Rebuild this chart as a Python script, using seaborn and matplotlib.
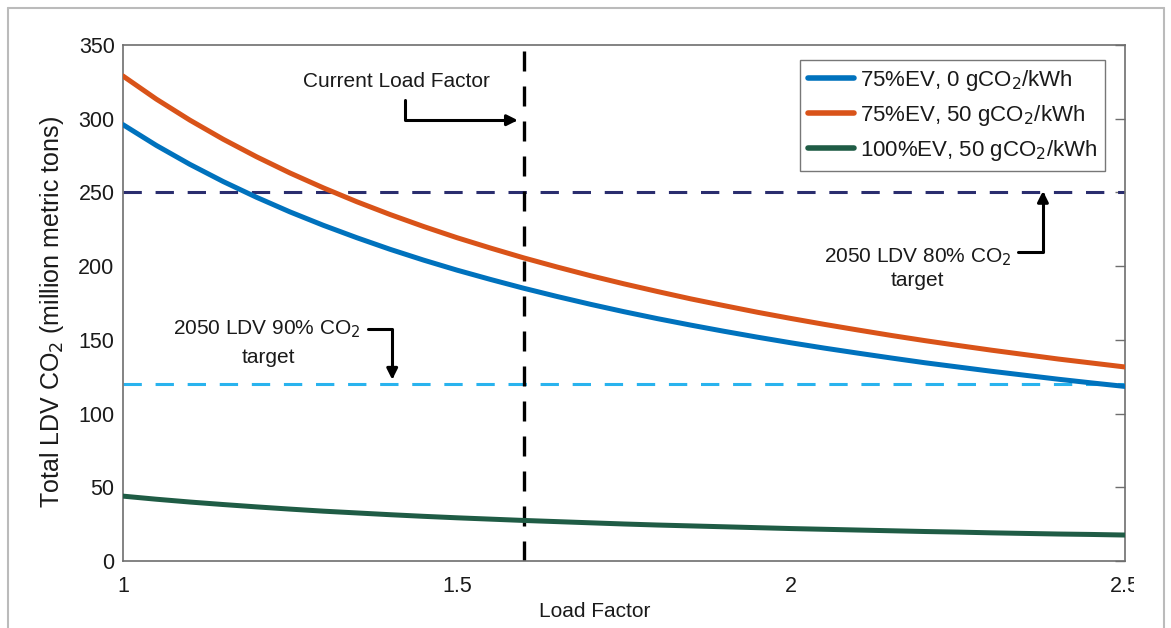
import pandas as pd
import matplotlib.pyplot as plt
import seaborn as sns
from matplotlib.lines import Line2D
from matplotlib.patches import Rectangle

# --- dati ---
load_factor = [1.0, 1.05, 1.1, 1.15, 1.2, 1.25, 1.3, 1.35, 1.4, 1.45, 1.5,
               1.55, 1.6, 1.65, 1.7, 1.75, 1.8, 1.85, 1.9, 1.95, 2.0,
               2.05, 2.1, 2.15, 2.2, 2.25, 2.3, 2.35, 2.4, 2.45, 2.5]
ev75_0g = [296, 281.9, 269.1, 257.4, 246.7, 236.8, 227.7, 219.3, 211.4, 204.1, 197.3,
           191, 185, 179.4, 174.1, 169.1, 164.4, 160, 155.8, 151.8, 148,
           144.4, 141, 137.7, 134.5, 131.6, 128.7, 126, 123.3, 120.8, 118.4]
ev75_50g = [329, 313.3, 299.1, 286.1, 274.2, 263.2, 253.1, 243.7, 235, 226.9, 219.3,
            212.3, 205.6, 199.4, 193.5, 188, 182.8, 177.8, 173.2, 168.7, 164.5,
            160.5, 156.7, 153, 149.5, 146.2, 143, 140, 137, 134.3, 131.6]
ev100_50g = [44, 41.9, 40, 38.3, 36.7, 35.2, 33.8, 32.6, 31.4, 30.3, 29.3,
             28.4, 27.5, 26.7, 25.9, 25.1, 24.4, 23.8, 23.2, 22.6, 22,
             21.5, 21, 20.5, 20, 19.6, 19.1, 18.7, 18.3, 18, 17.6]

series_names = ["75%EV, 0 gCO$_2$/kWh", "75%EV, 50 gCO$_2$/kWh", "100%EV, 50 gCO$_2$/kWh"]
target_80 = 250
target_90 = 120
current_lf = 1.6

# --- stile ---
sns.set_theme(style="white")
plt.rcParams.update({
    'font.size': 15,
    'axes.labelsize': 14,
    'xtick.labelsize': 15.5,
    'ytick.labelsize': 15.5,
    'axes.edgecolor': '#6e6e6e',
    'axes.linewidth': 1.2,
    'xtick.direction': 'in',
    'ytick.direction': 'in',
})
plt.rcParams['font.family'] = ['Liberation Sans', 'DejaVu Sans']

rows = []
for name, vals in zip(series_names, [ev75_0g, ev75_50g, ev100_50g]):
    for x, y in zip(load_factor, vals):
        rows.append({'Load Factor': x, 'CO2': y, 'Serie': name})
df = pd.DataFrame(rows)

palette = {series_names[0]: '#0072BD', series_names[1]: '#D95319', series_names[2]: '#1f5c45'}

fig = plt.figure(figsize=(11.71, 6.28), dpi=100)
ax = fig.add_axes([0.105, 0.1067, 0.8558, 0.8216])

# linee di target e load factor attuale
ax.axhline(target_80, color='#2a2d6e', linestyle=(0, (6, 4.5)), linewidth=2.2, zorder=1)
ax.axhline(target_90, color='#29b3ee', linestyle=(0, (6, 4.5)), linewidth=2.2, zorder=1)
ax.axvline(current_lf, color='black', linestyle=(0, (6, 4.5)), linewidth=2.4, zorder=1)

sns.lineplot(data=df, x='Load Factor', y='CO2', hue='Serie', palette=palette,
             linewidth=3.6, ax=ax, zorder=3)

ax.set_xlim(1, 2.5)
ax.set_ylim(0, 350)
ax.set_xticks([1, 1.5, 2, 2.5])
ax.set_xticklabels(['1', '1.5', '2', '2.5'])
ax.set_yticks(range(0, 351, 50))
ax.tick_params(axis='both', length=7, width=1, color='#6e6e6e', labelcolor='#1a1a1a')
ax.tick_params(axis='x', pad=11)
ax.tick_params(axis='y', right=True, pad=6)

ax.set_xlabel("Load Factor", color='#1a1a1a', fontsize=15)
ax.set_ylabel("Total LDV CO$_2$ (million metric tons)", color='#1a1a1a', fontsize=18)
ax.xaxis.set_label_coords(0.471, -0.08)
ax.yaxis.set_label_coords(-0.057, 0.483)

# legenda
handles = [Line2D([0], [0], color=palette[n], linewidth=4) for n in series_names]
leg = ax.legend(handles, series_names, loc='upper right', bbox_to_anchor=(0.98, 0.971),
                frameon=True, fancybox=False, fontsize=16, handlelength=2.1,
                handletextpad=0.25, labelspacing=0.45, borderpad=0.35, borderaxespad=0)
leg.get_frame().set_edgecolor('#555555')
leg.get_frame().set_linewidth(1.0)
for t in leg.get_texts():
    t.set_color('#1a1a1a')

# annotazioni
arrow = dict(arrowstyle='-|>', color='black', lw=2.2, shrinkA=0, shrinkB=0,
             mutation_scale=16, connectionstyle='angle,angleA=90,angleB=0,rad=0')
ax.text(1.41, 325, "Current Load Factor", ha='center', va='center', fontsize=15, color='#1a1a1a')
ax.annotate("", xy=(1.591, 299), xytext=(1.422, 313), arrowprops=arrow)

ax.text(1.216, 157.5, "2050 LDV 90% CO$_2$", ha='center', va='center', fontsize=15, color='#1a1a1a')
ax.text(1.217, 138, "target", ha='center', va='center', fontsize=15, color='#1a1a1a')
arrow90 = dict(arrow, connectionstyle='angle,angleA=0,angleB=90,rad=0')
ax.annotate("", xy=(1.403, 123), xytext=(1.367, 157.5), arrowprops=arrow90)

ax.text(2.189, 206, "2050 LDV 80% CO$_2$", ha='center', va='center', fontsize=15, color='#1a1a1a')
ax.text(2.189, 190.5, "target", ha='center', va='center', fontsize=15, color='#1a1a1a')
ax.annotate("", xy=(2.377, 251), xytext=(2.340, 209.5), arrowprops=arrow90)

# cornice grigia della figura
fig.add_artist(Line2D([8 / 1171, 8 / 1171], [0, 1 - 8 / 628], color='#bbbbbb', lw=1.5))
fig.add_artist(Line2D([8 / 1171, 1164 / 1171], [1 - 8 / 628, 1 - 8 / 628], color='#bbbbbb', lw=1.5))
fig.add_artist(Line2D([1164 / 1171, 1164 / 1171], [0, 1 - 8 / 628], color='#bbbbbb', lw=1.5))
# etichetta 2.5 tagliata come nell'originale
fig.add_artist(Rectangle((1134 / 1171, 30 / 628), 28 / 1171, 40 / 628, facecolor='white',
                         edgecolor='none', zorder=10))

plt.savefig('out.png', dpi=100)
plt.close()
